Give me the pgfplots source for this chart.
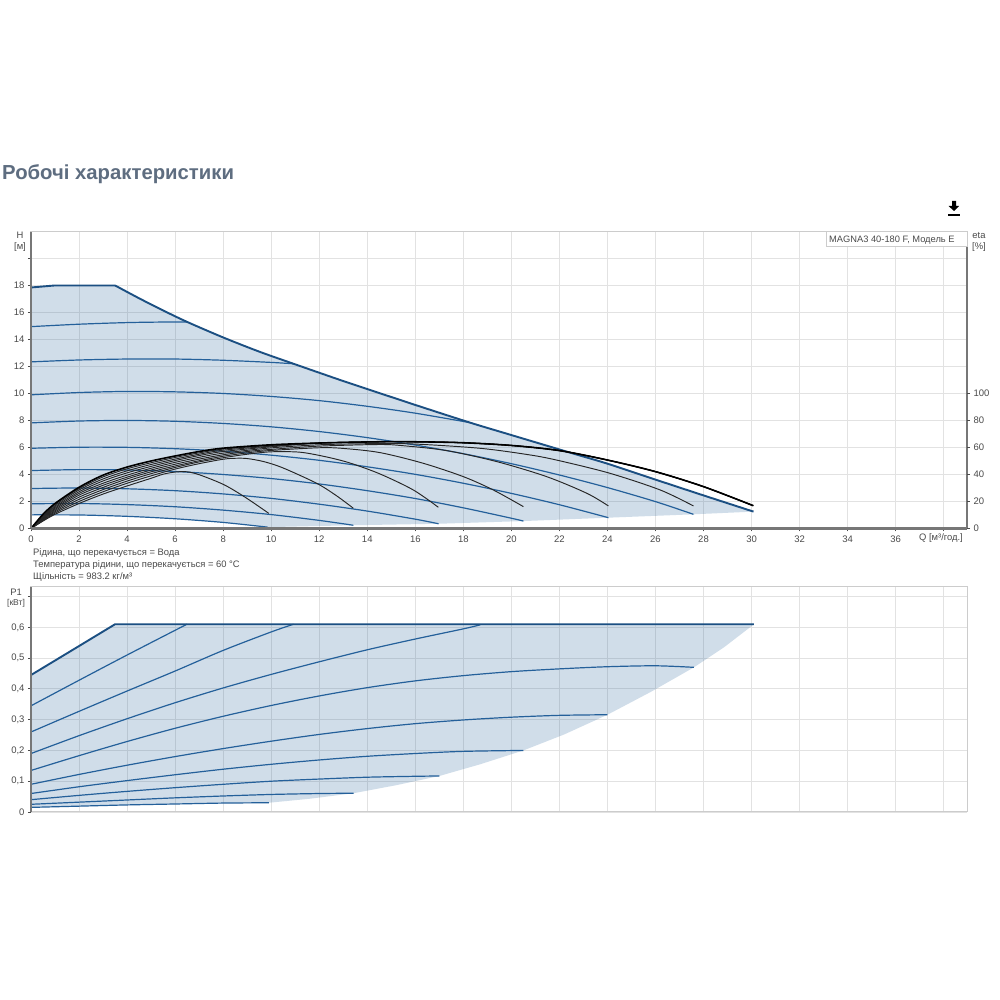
\documentclass[border=0pt]{standalone}
\usepackage{fontspec}
\setmainfont{Liberation Sans}
\usepackage{pgfplots}
\pgfplotsset{compat=1.18}
\definecolor{blu}{HTML}{24609A}
\definecolor{blt}{HTML}{1B4F82}
\definecolor{gridc}{HTML}{E2E2E2}
\definecolor{frm}{HTML}{CCCCCC}
\definecolor{axd}{HTML}{777777}
\definecolor{txt}{HTML}{4A4A4A}
\definecolor{ttl}{HTML}{5E6D80}
\pgfplotsset{
  base/.style={
    scale only axis, width=936pt, xmin=0, xmax=38.97, axis on top=false,
    grid=major, grid style={gridc, line width=0.9pt},
    axis line style={frm, line width=1pt},
    tick align=outside, major tick length=3pt,
    tick style={draw=txt, line width=0.8pt},
    xtick={0,2,...,38},
    xtick pos=bottom, ytick pos=left,
    ticklabel style={font=\fontsize{9.5}{11}\selectfont, text=txt},
    /pgf/number format/assume math mode=true,
    clip=false,
  },
  fa/.style={draw=none, fill=blu, fill opacity=0.21, forget plot},
  bl/.style={blu, line width=1.2pt, smooth, no marks},
  en/.style={blt, line width=1.9pt, no marks},
  ek/.style={black!85, line width=0.95pt, smooth, no marks},
}
\begin{document}
\begin{tikzpicture}[x=1pt,y=1pt]
\path[use as bounding box, fill=white] (0,0) rectangle (1000,1000);
\node[anchor=base west, text=ttl, font=\fontsize{20.3}{22}\selectfont\bfseries, inner sep=0pt] at (2,820.5) {Робочі характеристики};
% download icon
\fill[black] (952,799) -- (956,799) -- (956,794) -- (959,794) -- (954,789) -- (948.5,794) -- (952,794) -- cycle;
\fill[black] (948,784) rectangle (960,786);
% ---- top chart
\begin{axis}[base, at={(31pt,471.5pt)}, anchor=south west, height=296.5pt,
  ymin=0, ymax=21.96,
  ytick={0,2,...,20}, yticklabels={0,2,4,6,8,10,12,14,16,18,},
  xticklabels={0,2,4,6,8,10,12,14,16,18,20,22,24,26,28,30,32,34,36,},
  xticklabel style={yshift=-1pt},
]
\addplot[fa] coordinates {(0,1.01)(0,17.85)(1,18)(3.5,18)(4.5,17.05)(5.5,16.15)(6.5,15.3)(8,14.15)(9.5,13.1)(10.93,12.2)(12.87,11)(14,10.33)(16,9.15)(18.28,7.84)(20,6.92)(22.44,5.62)(24,4.8)(26,3.62)(28,2.45)(30.08,1.25)(27.58,1.05)(24.04,0.8)(20.5,0.55)(16.97,0.35)(13.42,0.24)(9.85,0.1)(8,0.45)(6,0.72)(4,0.9)(2,1)} -- cycle;
% blue H curves
\addplot[bl] coordinates {(0,14.95)(2,15.13)(4,15.25)(5.5,15.29)(6.5,15.3)};
\addplot[bl] coordinates {(0,12.34)(2,12.48)(4,12.55)(6,12.55)(8,12.46)(10,12.3)(10.93,12.2)};
\addplot[bl] coordinates {(0,9.9)(2,10.07)(4,10.15)(6,10.12)(8,10)(10,9.78)(12,9.47)(14,9.05)(16,8.54)(18.28,7.84)};
\addplot[bl] coordinates {(0,7.82)(2,7.96)(4,8)(6,7.94)(8,7.78)(10,7.53)(12,7.18)(14,6.73)(16,6.18)(18,5.54)(20,4.8)(22,3.96)(24,3.03)(26,1.99)(27.58,1.05)};
\addplot[bl] coordinates {(0,5.94)(2,6.02)(4,6.01)(6,5.91)(8,5.72)(10,5.43)(12,5.05)(14,4.57)(16,4.01)(18,3.35)(20,2.6)(22,1.76)(24.04,0.8)};
\addplot[bl] coordinates {(0,4.29)(2,4.36)(4,4.33)(6,4.22)(8,4)(10,3.7)(12,3.3)(14,2.8)(16,2.22)(18,1.53)(20,0.76)(20.5,0.55)};
\addplot[bl] coordinates {(0,2.96)(2,3)(4,2.94)(6,2.8)(8,2.56)(10,2.23)(12,1.8)(14,1.29)(16,0.69)(16.97,0.35)};
\addplot[bl] coordinates {(0,1.83)(2,1.85)(4,1.77)(6,1.61)(8,1.36)(10,1.03)(12,0.6)(13.42,0.24)};
\addplot[bl] coordinates {(0,1.01)(2,1)(4,0.9)(6,0.72)(8,0.45)(9.85,0.1)};
% envelope
\addplot[en] coordinates {(0,17.85)(1,18)(3.5,18)};
\addplot[en, smooth] coordinates {(3.5,18)(4.5,17.05)(5.5,16.15)(6.5,15.3)(8,14.15)(9.5,13.1)(10.93,12.2)(12.87,11)(14,10.33)(16,9.15)(18.28,7.84)(20,6.92)(22.44,5.62)(24,4.8)(26,3.62)(28,2.45)(30.08,1.25)};
% black eta curves
\addplot[ek] coordinates {(0,0)(0.5,0.55)(1,1.05)(2,1.85)(3,2.55)(4,3.15)(5,3.72)(5.5,4.02)(6,4.18)(6.5,4.2)(7.04,3.96)(8.06,3.22)(8.98,2.24)(9.9,1.12)};
\addplot[ek] coordinates {(0,0)(1,1.14)(2,2)(3,2.72)(4,3.35)(5,3.9)(6,4.4)(7,4.8)(8,5.13)(8.5,5.2)(9,5.18)(9.7,4.95)(10.5,4.48)(11.89,3.35)(12.7,2.45)(13.42,1.5)};
\addplot[ek] coordinates {(0,0)(1,1.23)(2,2.16)(3,2.88)(4,3.51)(5,4.06)(6,4.52)(7,4.93)(8,5.24)(9,5.5)(10,5.68)(11.2,5.65)(12.3,5.3)(13.28,4.85)(14.53,4.04)(15.92,2.85)(16.96,1.57)};
\addplot[ek] coordinates {(0,0)(1,1.32)(2,2.32)(3,3.04)(4,3.67)(5,4.2)(6,4.63)(7,5.02)(8,5.35)(9,5.6)(10,5.78)(12,5.98)(13,5.93)(14.53,5.62)(16.33,4.83)(18,3.84)(19.25,2.85)(20.5,1.62)};
\addplot[ek] coordinates {(0,0)(1,1.41)(2,2.47)(3,3.2)(4,3.8)(5,4.33)(6,4.76)(7,5.14)(8,5.46)(9,5.7)(10,5.86)(12,6.1)(14.5,6.22)(15.5,6.13)(17.3,5.77)(19.4,4.95)(21.47,3.84)(23.15,2.6)(24.04,1.67)};
\addplot[ek] coordinates {(0,0)(1,1.5)(2,2.6)(3,3.35)(4,3.95)(5,4.46)(6,4.9)(7,5.27)(8,5.58)(10,5.97)(12,6.2)(14,6.28)(15.9,6.26)(18.7,5.94)(20.8,5.44)(22,5.02)(24.1,4.09)(26.2,2.85)(27.58,1.67)};
\addplot[ek] coordinates {(0,0)(1,1.59)(2,2.72)(3,3.52)(4,4.12)(5,4.6)(6,5.03)(7,5.4)(8,5.7)(10,6.05)(12,6.33)(14,6.41)(15.5,6.43)(17.86,6.36)(20,6.15)(22,5.77)(24,5.07)(26,4.21)(28,3.1)(30.07,1.69)};
\addplot[ek] coordinates {(0,0)(1,1.68)(2,2.85)(3,3.67)(4,4.27)(5,4.74)(6,5.14)(7,5.5)(8,5.8)(10,6.1)(12,6.33)(14,6.41)(15.5,6.43)(17.86,6.36)(20,6.15)(22,5.77)(24,5.07)(26,4.21)(28,3.1)(30.07,1.69)};
\addplot[ek] coordinates {(0,0)(1,1.77)(2,2.95)(3,3.82)(4,4.42)(5,4.87)(6,5.26)(7,5.6)(8,5.88)(10,6.15)(12,6.33)(14,6.41)(15.5,6.43)(17.86,6.36)(20,6.15)(22,5.77)(24,5.07)(26,4.21)(28,3.1)(30.07,1.69)};
\addplot[ek, black, line width=1.6pt] coordinates {(0,0)(0.5,1.05)(1,1.85)(2,3.05)(3,3.95)(4,4.55)(5,5)(6,5.37)(7,5.7)(8,5.95)(10,6.2)(12,6.33)(14,6.41)(15.5,6.43)(17.86,6.36)(20,6.15)(22,5.77)(24,5.07)(26,4.21)(28,3.1)(30.07,1.69)};
% axis lines
\draw[axd, line width=1.5pt] (rel axis cs:0,0) -- (rel axis cs:0,1);
\draw[axd, line width=2.2pt] (rel axis cs:0,0) -- (rel axis cs:1,0);
\draw[axd, line width=1.5pt] (rel axis cs:1,0) -- (rel axis cs:1,1);
\end{axis}
% right eta axis
\begin{axis}[scale only axis, width=936pt, height=296.5pt, at={(31pt,471.5pt)}, anchor=south west,
  xmin=0, xmax=38.97, ymin=0, ymax=219.6, axis x line=none, axis y line=right,
  axis line style={draw=none},
  ytick={0,20,...,100},
  tick align=outside, major tick length=3pt, tick style={draw=txt, line width=0.8pt},
  ticklabel style={font=\fontsize{9.5}{11}\selectfont, text=txt},
  /pgf/number format/assume math mode=true,
]
\addplot[draw=none, forget plot] coordinates {(0,0)(1,1)};
\end{axis}
% legend box
\filldraw[fill=white, draw=frm, line width=1pt] (826,768) -- (826,753) -- (967,753) -- (967,768) -- cycle;
\node[anchor=base west, text=txt, font=\fontsize{9.3}{11}\selectfont, inner sep=0pt] at (829,757.5) {MAGNA3 40-180 F, Модель E};
% labels top
\node[text=txt, font=\fontsize{9.4}{11}\selectfont, inner sep=0pt] at (20,764.5) {H};
\node[text=txt, font=\fontsize{9.4}{11}\selectfont, inner sep=0pt] at (20,753) {[м]};
\node[text=txt, font=\fontsize{9.4}{11}\selectfont, inner sep=0pt] at (979,764.5) {eta};
\node[text=txt, font=\fontsize{9.4}{11}\selectfont, inner sep=0pt] at (979,753) {[\%]};
\node[anchor=base east, text=txt, font=\fontsize{9.4}{11}\selectfont, inner sep=0pt] at (963,459) {Q [м³/год.]};
\node[anchor=base west, text=txt, font=\fontsize{9.4}{11}\selectfont, inner sep=0pt] at (33,444.5) {Рідина, що перекачується = Вода};
\node[anchor=base west, text=txt, font=\fontsize{9.4}{11}\selectfont, inner sep=0pt] at (33,432.5) {Температура рідини, що перекачується = 60 °C};
\node[anchor=base west, text=txt, font=\fontsize{9.4}{11}\selectfont, inner sep=0pt] at (33,420.5) {Щільність = 983.2 кг/м³};
% ---- bottom chart
\begin{axis}[base, at={(31pt,188pt)}, anchor=south west, height=225.3pt,
  ymin=0, ymax=0.732,
  ytick={0,0.1,0.2,0.3,0.4,0.5,0.6,0.7},
  yticklabels={0,{0,1},{0,2},{0,3},{0,4},{0,5},{0,6},},
  xticklabels={},
  major x tick style={draw=none},
]
\addplot[fa] coordinates {(0,0.015)(0,0.445)(3.5,0.61)(30.1,0.61)(28.85,0.535)(27.6,0.47)(25.8,0.39)(24,0.316)(22.2,0.252)(20.5,0.2)(18.7,0.155)(17,0.117)(15.2,0.087)(13.43,0.061)(11.6,0.043)(9.9,0.03)(8,0.029)(6,0.026)(4,0.023)(2,0.019)} -- cycle;
\addplot[bl] coordinates {(0,0.345)(2,0.428)(4,0.51)(6.49,0.61)};
\addplot[bl] coordinates {(0,0.26)(2,0.327)(4,0.393)(6,0.458)(8,0.525)(10,0.585)(10.93,0.61)};
\addplot[bl] coordinates {(0,0.19)(2,0.248)(4,0.303)(6,0.355)(8,0.403)(10,0.447)(12,0.488)(14,0.527)(16,0.562)(18,0.595)(18.7,0.608)};
\addplot[bl] coordinates {(0,0.135)(2,0.183)(4,0.229)(6,0.272)(8,0.311)(10,0.346)(12,0.377)(14,0.404)(16,0.426)(18,0.443)(20,0.456)(22,0.465)(24,0.472)(26,0.475)(27.6,0.47)};
\addplot[bl] coordinates {(0,0.09)(2,0.122)(4,0.152)(6,0.18)(8,0.206)(10,0.23)(12,0.252)(14,0.271)(16,0.287)(18,0.299)(20,0.308)(22,0.314)(24,0.316)};
\addplot[bl] coordinates {(0,0.06)(2,0.082)(4,0.102)(6,0.121)(8,0.139)(10,0.155)(12,0.169)(14,0.181)(16,0.19)(18,0.197)(20.5,0.2)};
\addplot[bl] coordinates {(0,0.04)(2,0.054)(4,0.067)(6,0.079)(8,0.09)(10,0.1)(12,0.107)(14,0.113)(16,0.116)(17,0.117)};
\addplot[bl] coordinates {(0,0.025)(2,0.032)(4,0.039)(6,0.046)(8,0.052)(10,0.057)(12,0.06)(13.43,0.061)};
\addplot[bl] coordinates {(0,0.015)(2,0.019)(4,0.023)(6,0.026)(8,0.029)(9.9,0.03)};
\addplot[en] coordinates {(0,0.445)(1,0.492)(3.5,0.61)(30.1,0.61)};
\draw[axd, line width=1.5pt] (rel axis cs:0,0) -- (rel axis cs:0,1);
\end{axis}
\node[text=txt, font=\fontsize{9.4}{11}\selectfont, inner sep=0pt] at (16,408) {P1};
\node[text=txt, font=\fontsize{8.5}{11}\selectfont, inner sep=0pt] at (16,396.5) {[кВт]};
\end{tikzpicture}
\end{document}
